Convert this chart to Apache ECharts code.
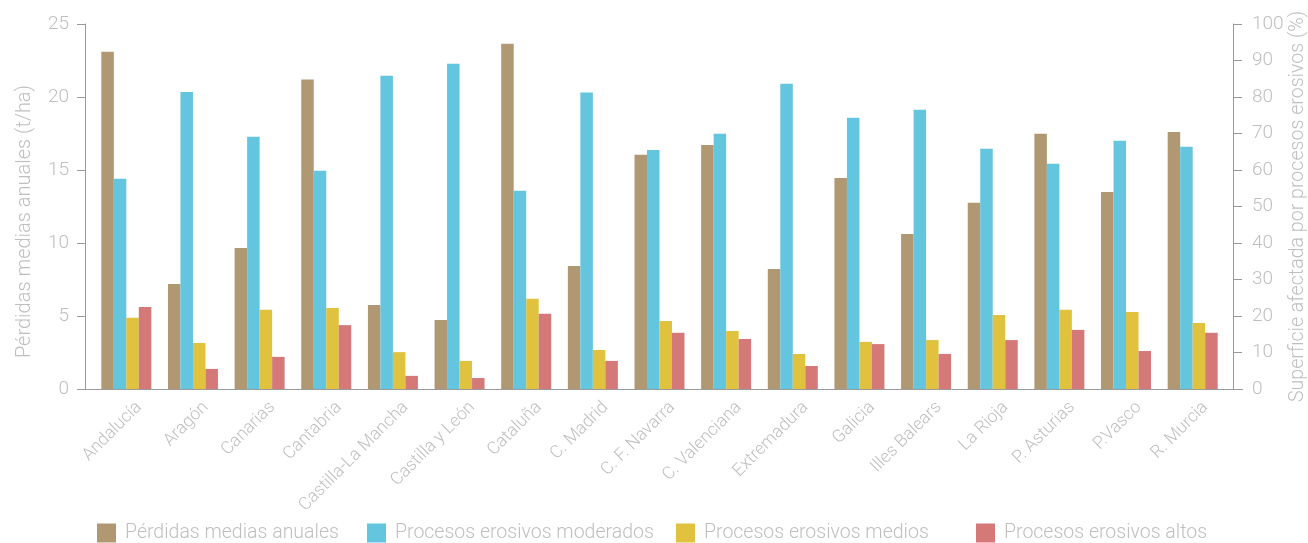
<!DOCTYPE html>
<html><head><meta charset="utf-8">
<script src="https://cdn.jsdelivr.net/npm/echarts@6/dist/echarts.min.js"></script>
<style>html,body{margin:0;padding:0;background:#fff}#c{width:1308px;height:543px}</style>
</head><body><div id="c"></div>
<script>
const categories = ["Andalucía","Aragón","Canarias","Cantabria","Castilla-La Mancha","Castilla y León","Cataluña","C. Madrid","C. F. Navarra","C. Valenciana","Extremadura","Galicia","Illes Balears","La Rioja","P. Asturias","P.Vasco","R. Murcia"];
const perdidas = [23.1, 7.2, 9.66, 21.2, 5.76, 4.73, 23.65, 8.43, 16.04, 16.72, 8.22, 14.46, 10.62, 12.75, 17.48, 13.5, 17.61];
const moderados = [57.6, 81.4, 69.1, 59.8, 85.8, 89.1, 54.3, 81.2, 65.5, 69.9, 83.6, 74.3, 76.5, 65.8, 61.7, 68.0, 66.4];
const medios = [19.5, 12.6, 21.7, 22.2, 10.1, 7.7, 24.7, 10.7, 18.6, 15.9, 9.6, 12.9, 13.4, 20.3, 21.7, 21.1, 18.1];
const altos = [22.5, 5.5, 8.8, 17.5, 3.6, 3.0, 20.6, 7.7, 15.4, 13.7, 6.3, 12.3, 9.6, 13.4, 16.2, 10.4, 15.4];
const seriesNames = ["Pérdidas medias anuales","Procesos erosivos moderados","Procesos erosivos medios","Procesos erosivos altos"];
const colors = ["#B09873","#64C5DF","#E0C23E","#D47878"];
const leftTicks = [0, 25, 5];
const rightTicks = [0, 100, 10];

const FONT = 'Roboto';
const TXT = '#bfbfbf';
const AX = '#9a9a9a';
const chart = echarts.init(document.getElementById('c'), null, {renderer:'canvas'});
const legendLefts = [97, 367, 676, 976];
const option = {
  animation:false,
  backgroundColor:'#fff',
  color: colors,
  textStyle:{fontFamily:FONT, fontWeight:300},
  grid:{left:93, right:82, top:24, bottom:154, containLabel:false, outerBoundsMode:'none'},
  legend: seriesNames.map((n,i)=>({
    data:[n], left:legendLefts[i], top:523, padding:0, icon:'rect', itemWidth:19, itemHeight:19,
    textStyle:{fontSize:19.5, color:TXT, fontFamily:FONT, fontWeight:300, padding:[0,0,0,4]}
  })),
  xAxis:{type:'category', data:categories,
    axisLine:{show:false}, axisTick:{show:false},
    axisLabel:{interval:0, rotate:45, fontSize:17.5, color:TXT, fontFamily:FONT, fontWeight:300, margin:3,
      verticalAlign:'top', lineHeight:20, padding:[8,0,0,0]}},
  yAxis:[
    {type:'value', min:leftTicks[0], max:leftTicks[1], interval:leftTicks[2], position:'left', offset:8,
     name:'Pérdidas medias anuales (t/ha)', nameLocation:'middle', nameRotate:90, nameGap:50,
     nameTextStyle:{fontSize:20, color:TXT, fontFamily:FONT, fontWeight:300, padding:[0,30,0,0]},
     axisLine:{show:true, lineStyle:{color:AX, width:1}}, axisTick:{show:true, length:8, lineStyle:{color:AX}},
     splitLine:{show:false},
     axisLabel:{fontSize:19, color:TXT, fontFamily:FONT, fontWeight:300, margin:16}},
    {type:'value', min:rightTicks[0], max:rightTicks[1], interval:rightTicks[2], position:'right', offset:7,
     name:'Superficie afectada por procesos erosivos (%)', nameLocation:'middle', nameRotate:90, nameGap:55,
     nameMoveOverlap:false,
     nameTextStyle:{fontSize:19.6, color:TXT, fontFamily:FONT, fontWeight:300},
     axisLine:{show:true, lineStyle:{color:AX, width:1}}, axisTick:{show:true, length:9, lineStyle:{color:AX}},
     splitLine:{show:false},
     axisLabel:{fontSize:19, color:TXT, fontFamily:FONT, fontWeight:300, margin:19}}
  ],
  series:[
    {name:seriesNames[0], type:'bar', yAxisIndex:0, data:perdidas, barGap:'0%', barCategoryGap:'25%'},
    {name:seriesNames[1], type:'bar', yAxisIndex:1, data:moderados, barGap:'0%', barCategoryGap:'25%'},
    {name:seriesNames[2], type:'bar', yAxisIndex:1, data:medios, barGap:'0%', barCategoryGap:'25%'},
    {name:seriesNames[3], type:'bar', yAxisIndex:1, data:altos, barGap:'0%', barCategoryGap:'25%'}
  ]
};
chart.setOption(option);
const y0 = chart.convertToPixel({yAxisIndex:0}, 0);
chart.setOption({graphic:[{type:'line', shape:{x1:77, y1:y0+0.5, x2:1243, y2:y0+0.5}, style:{stroke:AX, lineWidth:1}, z:10}]});
</script></body></html>
